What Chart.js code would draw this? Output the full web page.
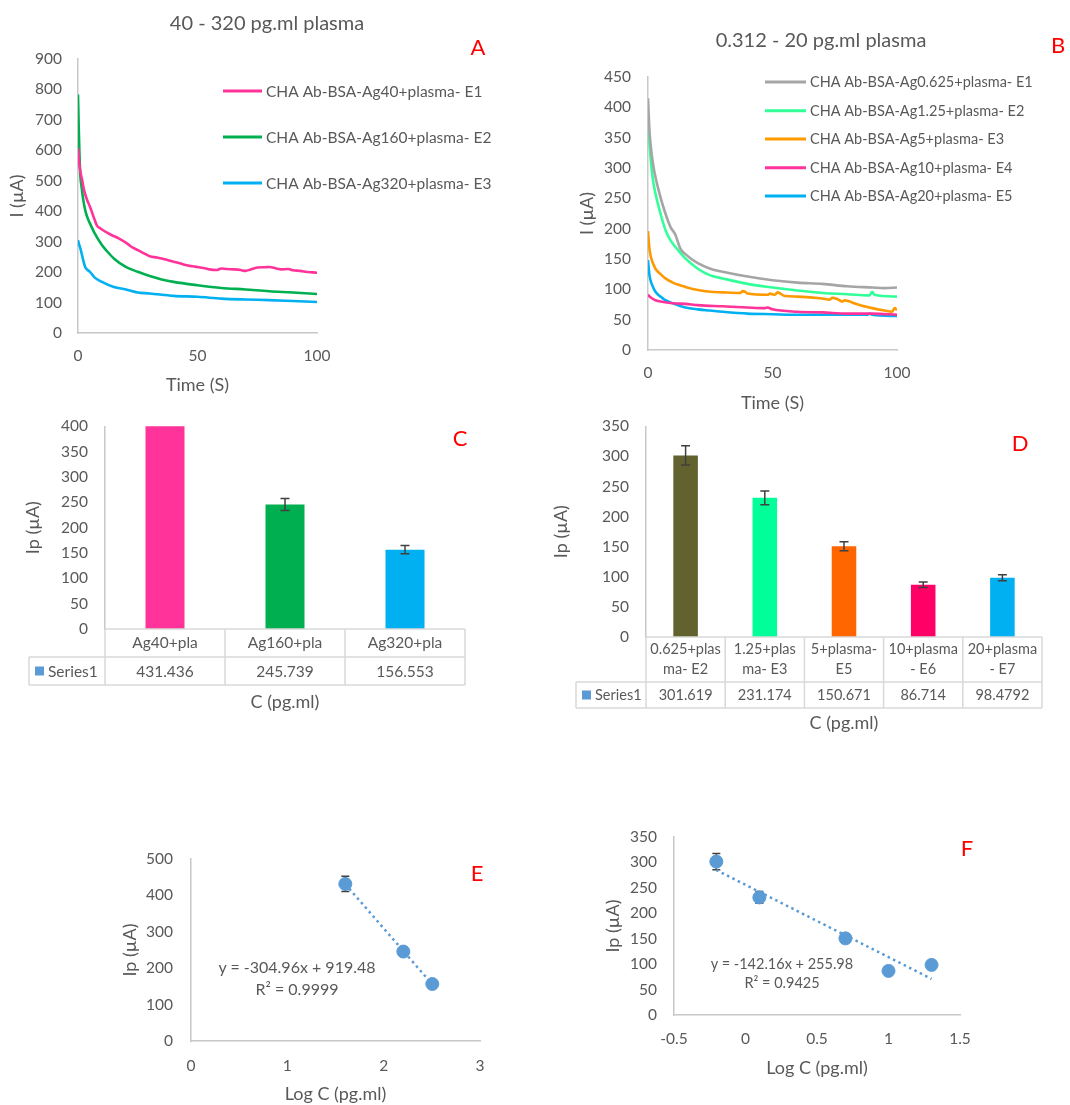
<!DOCTYPE html>
<html>
<head>
<meta charset="utf-8">
<script src="https://cdn.jsdelivr.net/npm/chart.js@4.4.1/dist/chart.umd.min.js"></script>
<style>
  html,body{margin:0;padding:0;background:#fff;}
  body{position:relative;width:1070px;height:1105px;overflow:hidden;font-family:Lato,sans-serif;}
  canvas{position:absolute;}
  .t{position:absolute;transform:translate(-50%,-50%);white-space:nowrap;color:#595959;font-family:Lato,sans-serif;line-height:1;}
  .L{color:#FF0000;font-size:22px;}
</style>
</head>
<body>
<script>
// ---------------- DATA ----------------
// Panel A: 40 - 320 pg.ml plasma (time in s, current in µA)
const labelsA = ['CHA Ab-BSA-Ag40+plasma- E1','CHA Ab-BSA-Ag160+plasma- E2','CHA Ab-BSA-Ag320+plasma- E3'];
const tA1 = [0,0.5,1,1.7,2.5,3.8,5,6.5,8,9.3,11,14,17,20,22,25,28,30,33,35,38,40,43,45,48,50,53,55,58,60,62,65,68,70,72,75,78,80,83,85,88,90,93,95,98,100];
const iA1 = [607,560,530,503,470,437,415,382,352,344,335,322,311,297,285,272,260,252,248,245,238,234,228,223,219,217,213,209,207,212,210,209,207,204,208,215,216,217,212,209,210,206,204,201,199,198];
const tA2 = [0,0.3,0.6,1,1.5,2,3,4,5,7,10,12,15,20,25,30,35,40,50,60,70,80,90,100];
const iA2 = [783,680,590,514,480,448,404,378,360,327,289,270,245,217,201,187,176,168,157,148,143,137,133,128];
const tA3 = [0,0.5,1,2,3,4,5,7,10,15,20,25,30,40,50,60,70,80,90,100];
const iA3 = [305,290,278,245,217,207,201,182,168,151,143,133,130,122,119,113,110,108,105,102];

// Panel B: 0.312 - 20 pg.ml plasma
const labelsB = ['CHA Ab-BSA-Ag0.625+plasma- E1','CHA Ab-BSA-Ag1.25+plasma- E2','CHA Ab-BSA-Ag5+plasma- E3','CHA Ab-BSA-Ag10+plasma- E4','CHA Ab-BSA-Ag20+plasma- E5'];
const tB1 = [0,0.5,1,2,3,5,7,9,11,12,13,15,20,25,30,40,50,60,70,80,90,95,100];
const iB1 = [415,368,340,307,285,252,225,203,190,178,167,158,143,134,129,121,115,111,109,105,103,102,103];
const tB2 = [0,0.5,1,2,3,5,7,9,12,15,20,25,30,40,50,60,70,80,89,90,91,100];
const iB2 = [373,346,318,280,258,225,198,181,165,151,134,123,118,109,103,98,94,92,90,96,91,88];
const tB3 = [0,0.5,1,2,3,5,7,10,15,20,25,30,37,38,39,40,48,49,51,52,55,60,70,73,74,76,78,79,80,85,90,95,98,99,100];
const iB3 = [196,170,156,143,134,125,118,111,104,99,96,95,94,97,96,93,91,93,91,95,89,88,85,83,86,84,80,82,81,74,69,65,63,69,66];
const tB4 = [0,1,3,5,10,15,20,30,40,47,48,50,60,70,80,90,100];
const iB4 = [91,87,82,80,77,76,74,72,70,69,70,67,63,62,60,60,58];
const tB5 = [0,0.5,1,2,3,5,7,10,15,20,25,30,40,50,60,70,80,88,89,90,100];
const iB5 = [148,126,115,104,96,88,82,77,70,67,65,63,60,59,58,58,58,58,60,58,56];

// Panel C
const catsC = ['Ag40+pla','Ag160+pla','Ag320+pla'];
const valsC = [431.436, 245.739, 156.553];
const errC  = [21, 12, 8];

// Panel D
const catsD = [['0.625+plas','ma- E2'],['1.25+plas','ma- E3'],['5+plasma-','E5'],['10+plasma','- E6'],['20+plasma','- E7']];
const valsD = [301.619, 231.174, 150.671, 86.714, 98.4792];
const errD  = [16, 11.5, 7.5, 4.5, 5];

// Panel E
const logCE = [1.602, 2.204, 2.505];
const ipE   = [431.436, 245.739, 156.553];
const errE  = [21, 12, 8];
const fitE  = {slope: -304.96, intercept: 919.48, r2: '0.9999'};

// Panel F
const logCF = [-0.204, 0.097, 0.699, 1.0, 1.301];
const ipF   = [301.619, 231.174, 150.671, 86.714, 98.4792];
const errF  = [16, 11.5, 7.5, 4.5, 5];
const fitF  = {slope: -142.16, intercept: 255.98, r2: '0.9425'};

// ---------------- STYLE ----------------
const FONT = 'Lato';
const TXT = '#595959';
const AX = '#C8C8C8';
const GRIDT = '#D9D9D9';
const PT = '#5B9BD5';

function pts(xs, ys){ return xs.map((x,i)=>({x, y: ys[i]})); }

// ---------------- PLUGINS ----------------
const sideLegend = {
  id: 'sideLegend',
  afterDraw(chart, args, o) {
    if (!o || !o.rows) return;
    const ctx = chart.ctx;
    ctx.save();
    ctx.font = o.size + 'px ' + FONT;
    ctx.textBaseline = 'middle';
    ctx.textAlign = 'left';
    chart.data.datasets.forEach((ds, i) => {
      const y = o.rows[i];
      ctx.strokeStyle = ds.borderColor; ctx.lineWidth = 3; ctx.lineCap = 'butt';
      ctx.beginPath(); ctx.moveTo(o.x, y); ctx.lineTo(o.x + o.len, y); ctx.stroke();
      ctx.fillStyle = TXT;
      ctx.fillText(ds.label, o.x + o.len + o.gap, y + 0.5);
    });
    ctx.restore();
  }
};

const errBars = {
  id: 'errBars',
  draw(chart, o) {
    const ctx = chart.ctx, a = chart.chartArea, ys = chart.scales.y;
    const meta = chart.getDatasetMeta(0);
    const data = chart.data.datasets[0].data;
    ctx.save();
    ctx.beginPath(); ctx.rect(a.left, a.top, a.right - a.left, a.bottom - a.top); ctx.clip();
    ctx.strokeStyle = '#404040'; ctx.lineWidth = 1.5;
    meta.data.forEach((el, i) => {
      const v = typeof data[i] === 'object' ? data[i].y : data[i];
      const e = o.err[i];
      const x = el.x, y1 = ys.getPixelForValue(v + e), y2 = ys.getPixelForValue(v - e);
      ctx.beginPath();
      ctx.moveTo(x, y1); ctx.lineTo(x, y2);
      ctx.moveTo(x - o.cap, y1); ctx.lineTo(x + o.cap, y1);
      ctx.moveTo(x - o.cap, y2); ctx.lineTo(x + o.cap, y2);
      ctx.stroke();
    });
    ctx.restore();
  },
  beforeDatasetsDraw(chart, args, o) { if (o && o.err && o.before) this.draw(chart, o); },
  afterDatasetsDraw(chart, args, o) { if (o && o.err && !o.before) this.draw(chart, o); }
};

const dataTable = {
  id: 'dataTable',
  afterDraw(chart, args, o) {
    if (!o || !o.rows) return;
    const ctx = chart.ctx, a = chart.chartArea, xs = chart.scales.x;
    const ds = chart.data.datasets[0];
    const n = chart.data.labels.length;
    const cw = (a.right - a.left) / n;
    const y0 = a.bottom, y1 = y0 + o.rows[0], y2 = y1 + o.rows[1];
    const lx = o.left;
    ctx.save();
    ctx.strokeStyle = GRIDT; ctx.lineWidth = 1.5;
    ctx.beginPath();
    ctx.moveTo(a.left, y0); ctx.lineTo(a.right, y0);
    ctx.moveTo(lx, y1); ctx.lineTo(a.right, y1);
    ctx.moveTo(lx, y2); ctx.lineTo(a.right, y2);
    for (let i = 0; i <= n; i++) {
      const xx = (i < n ? xs.getPixelForValue(i) - cw / 2 : xs.getPixelForValue(n - 1) + cw / 2);
      ctx.moveTo(xx, y0); ctx.lineTo(xx, y2);
    }
    ctx.moveTo(lx, y1); ctx.lineTo(lx, y2);
    ctx.stroke();
    const ym = (y1 + y2) / 2;
    ctx.fillStyle = PT;
    ctx.fillRect(lx + o.keyX, ym - 4.5, 9, 9);
    ctx.fillStyle = TXT;
    ctx.font = o.size + 'px ' + FONT;
    ctx.textBaseline = 'middle';
    ctx.textAlign = 'left';
    ctx.fillText(ds.label, lx + o.keyX + 13, ym + 0.5);
    ctx.textAlign = 'center';
    ds.data.forEach((v, i) => ctx.fillText(String(v), xs.getPixelForValue(i), ym + 0.5));
    ctx.restore();
  }
};

// ---------------- HELPERS ----------------
function makeCanvas(box) {
  const c = document.createElement('canvas');
  c.width = box.w; c.height = box.h;
  c.style.left = box.l + 'px'; c.style.top = box.t + 'px';
  c.style.width = box.w + 'px'; c.style.height = box.h + 'px';
  document.body.appendChild(c);
  return c;
}
function addText(txt, x, y, size, cls) {
  const d = document.createElement('div');
  d.className = 't' + (cls ? ' ' + cls : '');
  d.style.left = x + 'px'; d.style.top = y + 'px';
  if (size) d.style.fontSize = size + 'px';
  d.innerHTML = txt;
  document.body.appendChild(d);
}
function yAxis(box, plot, min, max, step, title, titlePad, tickGap) {
  return {
    type: 'linear', min, max,
    ticks: {stepSize: step, padding: tickGap, color: TXT, font: {family: FONT, size: 15.5}},
    grid: {display: false, drawTicks: false},
    border: {display: true, color: AX, width: 1.5},
    title: {display: true, text: title, color: TXT, font: {family: FONT, size: 18, lineHeight: 1.2}, padding: {top: titlePad, bottom: 0}},
    afterFit: s => { s.width = plot.l - box.l; }
  };
}
function xLinear(box, plot, min, max, step, title, tickPad, titlePadB) {
  return {
    type: 'linear', min, max,
    ticks: {stepSize: step, padding: tickPad, color: TXT, font: {family: FONT, size: 15.5, lineHeight: 1.2}, maxRotation: 0,
            callback: v => String(v)},
    grid: {display: false, drawTicks: false},
    border: {display: true, color: AX, width: 1.5},
    title: {display: true, text: title, color: TXT, font: {family: FONT, size: 18, lineHeight: 1.2}, padding: {top: 0, bottom: titlePadB}},
    afterFit: s => { s.height = box.t + box.h - plot.b; }
  };
}
function layoutPad(box, plot) {
  return {padding: {top: plot.t - box.t, right: box.l + box.w - plot.r, left: 0, bottom: 0}};
}
const baseOpts = {responsive: false, animation: false, devicePixelRatio: 1, events: []};

function lineDs(label, color, xs, ys) {
  return {label, data: pts(xs, ys), borderColor: color, backgroundColor: color, borderWidth: 2.6,
          pointRadius: 0, cubicInterpolationMode: 'monotone', fill: false};
}

// ---------------- PANEL A ----------------
{
  const box = {l: 0, t: 0, w: 540, h: 400}, plot = {l: 78, t: 59, r: 317, b: 333};
  new Chart(makeCanvas(box), {
    type: 'line',
    data: {datasets: [
      lineDs(labelsA[0], '#FF3399', tA1, iA1),
      lineDs(labelsA[1], '#00B050', tA2, iA2),
      lineDs(labelsA[2], '#00B0F0', tA3, iA3)
    ]},
    options: Object.assign({}, baseOpts, {
      layout: layoutPad(box, plot),
      scales: {
        x: xLinear(box, plot, 0, 100, 50, 'Time (S)', 14, 4),
        y: yAxis(box, plot, 0, 900, 100, 'I (µA)', 6, 16)
      },
      plugins: {legend: {display: false}, tooltip: {enabled: false},
        sideLegend: {x: 223, len: 39, gap: 4, rows: [91, 137, 183], size: 15.5}}
    }),
    plugins: [sideLegend]
  });
  addText('40 - 320 pg.ml plasma', 267, 22, 20);
  addText('A', 478, 47, 0, 'L');
}

// ---------------- PANEL B ----------------
{
  const box = {l: 540, t: 0, w: 530, h: 420}, plot = {l: 648, t: 77, r: 897, b: 350};
  new Chart(makeCanvas(box), {
    type: 'line',
    data: {datasets: [
      lineDs(labelsB[0], '#A5A5A5', tB1, iB1),
      lineDs(labelsB[1], '#33FF99', tB2, iB2),
      lineDs(labelsB[2], '#FF9900', tB3, iB3),
      lineDs(labelsB[3], '#FF3399', tB4, iB4),
      lineDs(labelsB[4], '#00B0F0', tB5, iB5)
    ]},
    options: Object.assign({}, baseOpts, {
      layout: layoutPad(box, plot),
      scales: {
        x: xLinear(box, plot, 0, 100, 50, 'Time (S)', 14, 6),
        y: yAxis(box, plot, 0, 450, 50, 'I (µA)', 36, 17)
      },
      plugins: {legend: {display: false}, tooltip: {enabled: false},
        sideLegend: {x: 225, len: 41, gap: 4, rows: [82, 110.7, 139, 167.7, 196], size: 14.5}}
    }),
    plugins: [sideLegend]
  });
  addText('0.312 - 20 pg.ml plasma', 821, 39, 20);
  addText('B', 1058, 45, 0, 'L');
}

// ---------------- PANEL C ----------------
{
  const box = {l: 0, t: 400, w: 540, h: 350}, plot = {l: 105, t: 424, r: 465, b: 629};
  new Chart(makeCanvas(box), {
    type: 'bar',
    data: {labels: catsC, datasets: [{label: 'Series1', data: valsC,
      backgroundColor: ['#FF3399', '#00B050', '#00B0F0'], barPercentage: 0.325, categoryPercentage: 1}]},
    options: Object.assign({}, baseOpts, {
      layout: layoutPad(box, plot),
      scales: {
        x: {type: 'category',
            ticks: {padding: 5, color: TXT, font: {family: FONT, size: 15.5, lineHeight: 1.2}, maxRotation: 0, autoSkip: false},
            grid: {display: false, drawTicks: false}, border: {display: false},
            title: {display: true, text: 'C (pg.ml)', color: TXT, font: {family: FONT, size: 18, lineHeight: 1.2}, padding: {top: 0, bottom: 37}},
            afterFit: s => { s.height = box.t + box.h - plot.b; }},
        y: yAxis(box, plot, 0, 400, 50, 'Ip (µA)', 22, 17)
      },
      plugins: {legend: {display: false}, tooltip: {enabled: false},
        errBars: {err: errC, cap: 4.5},
        dataTable: {rows: [28, 28], left: 29, keyX: 6, size: 15.5}}
    }),
    plugins: [errBars, dataTable]
  });
  addText('C', 460, 438, 0, 'L');
}

// ---------------- PANEL D ----------------
{
  const box = {l: 540, t: 400, w: 530, h: 350}, plot = {l: 646, t: 426, r: 1042, b: 637};
  new Chart(makeCanvas(box), {
    type: 'bar',
    data: {labels: catsD, datasets: [{label: 'Series1', data: valsD,
      backgroundColor: ['#62622F', '#00FF99', '#FF6600', '#FF0066', '#00B0F0'], barPercentage: 0.31, categoryPercentage: 1}]},
    options: Object.assign({}, baseOpts, {
      layout: layoutPad(box, plot),
      scales: {
        x: {type: 'category',
            ticks: {padding: 3, color: TXT, font: {family: FONT, size: 14.5, lineHeight: 1.33}, maxRotation: 0, autoSkip: false},
            grid: {display: false, drawTicks: false}, border: {display: false},
            title: {display: true, text: 'C (pg.ml)', color: TXT, font: {family: FONT, size: 18, lineHeight: 1.2}, padding: {top: 0, bottom: 16}},
            afterFit: s => { s.height = box.t + box.h - plot.b; }},
        y: yAxis(box, plot, 0, 350, 50, 'Ip (µA)', 10, 17)
      },
      plugins: {legend: {display: false}, tooltip: {enabled: false},
        errBars: {err: errD, cap: 4.5},
        dataTable: {rows: [45, 26], left: 36, keyX: 6, size: 14.5}}
    }),
    plugins: [errBars, dataTable]
  });
  addText('D', 1020, 443, 0, 'L');
}

// ---------------- PANEL E ----------------
function fitLine(xs, fit) {
  const x0 = Math.min(...xs), x1 = Math.max(...xs);
  return [{x: x0, y: fit.slope * x0 + fit.intercept}, {x: x1, y: fit.slope * x1 + fit.intercept}];
}
function scatterDs(xs, ys, fit) {
  return [
    {type: 'scatter', label: 'Series1', data: pts(xs, ys), backgroundColor: PT, borderColor: PT, pointRadius: 6.5, pointHoverRadius: 6.5, order: 1},
    {type: 'line', label: 'Linear (Series1)', data: fitLine(xs, fit), borderColor: PT, borderWidth: 2.5,
     borderDash: [2.5, 3.5], pointRadius: 0, fill: false, order: 2}
  ];
}
{
  const box = {l: 100, t: 820, w: 440, h: 285}, plot = {l: 191, t: 859, r: 480, b: 1041};
  new Chart(makeCanvas(box), {
    type: 'scatter',
    data: {datasets: scatterDs(logCE, ipE, fitE)},
    options: Object.assign({}, baseOpts, {
      layout: layoutPad(box, plot),
      scales: {
        x: xLinear(box, plot, 0, 3, 1, 'Log C (pg.ml)', 16, 0),
        y: yAxis(box, plot, 0, 500, 100, 'Ip (µA)', 19, 18)
      },
      plugins: {legend: {display: false}, tooltip: {enabled: false},
        errBars: {err: errE, cap: 4, before: true}}
    }),
    plugins: [errBars]
  });
  addText('y = ' + fitE.slope + 'x + ' + fitE.intercept, 297, 967, 16);
  addText('R² = ' + fitE.r2, 297, 989, 16);
  addText('E', 477, 873, 0, 'L');
}

// ---------------- PANEL F ----------------
{
  const box = {l: 570, t: 800, w: 500, h: 305}, plot = {l: 674, t: 837, r: 960, b: 1015};
  new Chart(makeCanvas(box), {
    type: 'scatter',
    data: {datasets: scatterDs(logCF, ipF, fitF)},
    options: Object.assign({}, baseOpts, {
      layout: layoutPad(box, plot),
      scales: {
        x: xLinear(box, plot, -0.5, 1.5, 0.5, 'Log C (pg.ml)', 15, 26),
        y: yAxis(box, plot, 0, 350, 50, 'Ip (µA)', 32, 17)
      },
      plugins: {legend: {display: false}, tooltip: {enabled: false},
        errBars: {err: errF, cap: 4, before: true}}
    }),
    plugins: [errBars]
  });
  addText('y = ' + fitF.slope + 'x + ' + fitF.intercept, 782, 964, 14.5);
  addText('R² = ' + fitF.r2, 782, 983, 14.5);
  addText('F', 967, 848, 0, 'L');
}
</script>
</body>
</html>
